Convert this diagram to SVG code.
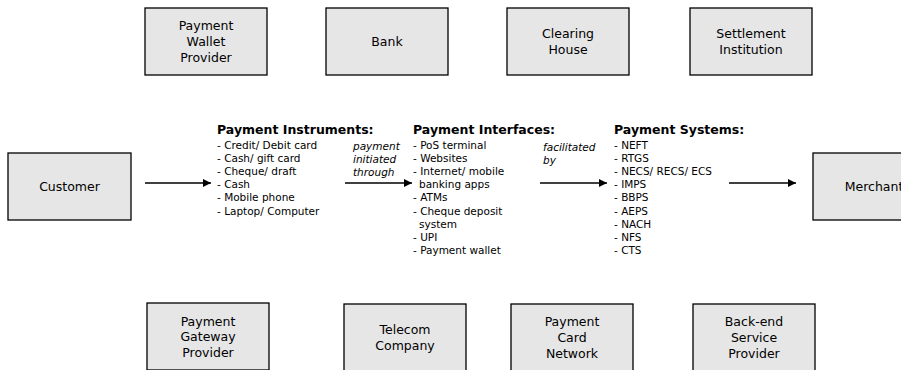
<svg xmlns="http://www.w3.org/2000/svg" width="901" height="370" viewBox="0 0 901 370">
<style>
  .box { fill: #e6e6e6; stroke: #000; stroke-width: 1.3; }
  .bl { font-family: "DejaVu Sans", sans-serif; font-size: 12.5px; text-anchor: middle; fill: #000; }
  .hd { font-family: "DejaVu Sans", sans-serif; font-size: 12.5px; font-weight: bold; fill: #000; }
  .it { font-family: "DejaVu Sans", sans-serif; font-size: 10.5px; fill: #000; }
  .lab { font-family: "DejaVu Sans", sans-serif; font-size: 10.5px; font-style: italic; fill: #000; }
  .conn { stroke: #000; stroke-width: 1.5; fill: none; marker-end: url(#ah); }
</style>
<defs>
  <marker id="ah" viewBox="0 0 10 10" refX="10" refY="5" markerWidth="10" markerHeight="8" markerUnits="userSpaceOnUse" orient="auto">
    <path d="M0,0 L10,5 L0,10 z" fill="#000"/>
  </marker>
</defs>
<rect width="901" height="370" fill="#fff"/>

<g id="payment-wallet-provider">
  <rect class="box" x="145" y="8" width="122" height="67"/>
  <text class="bl" x="206" y="30">Payment</text>
  <text class="bl" x="206" y="46">Wallet</text>
  <text class="bl" x="206" y="62">Provider</text>
</g>
<g id="bank">
  <rect class="box" x="326" y="8" width="122" height="67"/>
  <text class="bl" x="387" y="46">Bank</text>
</g>
<g id="clearing-house">
  <rect class="box" x="507" y="8" width="122" height="67"/>
  <text class="bl" x="568" y="38">Clearing</text>
  <text class="bl" x="568" y="54">House</text>
</g>
<g id="settlement-institution">
  <rect class="box" x="690" y="8" width="122" height="67"/>
  <text class="bl" x="751" y="38">Settlement</text>
  <text class="bl" x="751" y="54">Institution</text>
</g>

<g id="customer">
  <rect class="box" x="8" y="153" width="123" height="67"/>
  <text class="bl" x="69.5" y="191">Customer</text>
</g>
<g id="merchant">
  <rect class="box" x="813" y="153" width="122" height="67"/>
  <text class="bl" x="874" y="191">Merchant</text>
</g>

<g id="payment-instruments">
  <text class="hd" x="217" y="134">Payment Instruments:</text>
  <text class="it" x="217" y="148.5">- Credit/ Debit card</text>
  <text class="it" x="217" y="161.7">- Cash/ gift card</text>
  <text class="it" x="217" y="174.9">- Cheque/ draft</text>
  <text class="it" x="217" y="188.1">- Cash</text>
  <text class="it" x="217" y="201.3">- Mobile phone</text>
  <text class="it" x="217" y="214.5">- Laptop/ Computer</text>
</g>
<g id="payment-interfaces">
  <text class="hd" x="413" y="134">Payment Interfaces:</text>
  <text class="it" x="413" y="148.5">- PoS terminal</text>
  <text class="it" x="413" y="161.7">- Websites</text>
  <text class="it" x="413" y="174.9">- Internet/ mobile</text>
  <text class="it" x="419" y="188.1">banking apps</text>
  <text class="it" x="413" y="201.3">- ATMs</text>
  <text class="it" x="413" y="214.5">- Cheque deposit</text>
  <text class="it" x="419" y="227.7">system</text>
  <text class="it" x="413" y="240.9">- UPI</text>
  <text class="it" x="413" y="254.1">- Payment wallet</text>
</g>
<g id="payment-systems">
  <text class="hd" x="614" y="134">Payment Systems:</text>
  <text class="it" x="614" y="148.5">- NEFT</text>
  <text class="it" x="614" y="161.7">- RTGS</text>
  <text class="it" x="614" y="174.9">- NECS/ RECS/ ECS</text>
  <text class="it" x="614" y="188.1">- IMPS</text>
  <text class="it" x="614" y="201.3">- BBPS</text>
  <text class="it" x="614" y="214.5">- AEPS</text>
  <text class="it" x="614" y="227.7">- NACH</text>
  <text class="it" x="614" y="240.9">- NFS</text>
  <text class="it" x="614" y="254.1">- CTS</text>
</g>

<g id="payment-gateway-provider">
  <rect class="box" x="147" y="303" width="122" height="67"/>
  <text class="bl" x="208" y="325.5">Payment</text>
  <text class="bl" x="208" y="341">Gateway</text>
  <text class="bl" x="208" y="356.5">Provider</text>
</g>
<g id="telecom-company">
  <rect class="box" x="344" y="304" width="122" height="67"/>
  <text class="bl" x="405" y="333.5">Telecom</text>
  <text class="bl" x="405" y="349.5">Company</text>
</g>
<g id="payment-card-network">
  <rect class="box" x="511" y="304" width="122" height="67"/>
  <text class="bl" x="572" y="326">Payment</text>
  <text class="bl" x="572" y="342">Card</text>
  <text class="bl" x="572" y="357.5">Network</text>
</g>
<g id="back-end-service-provider">
  <rect class="box" x="693" y="304" width="122" height="67"/>
  <text class="bl" x="754" y="326">Back-end</text>
  <text class="bl" x="754" y="342">Service</text>
  <text class="bl" x="754" y="357.5">Provider</text>
</g>

<g id="connectors">
  <line class="conn" x1="145" y1="183" x2="211" y2="183"/>
  <line class="conn" x1="345" y1="183" x2="412" y2="183"/>
  <line class="conn" x1="540" y1="183" x2="607" y2="183"/>
  <line class="conn" x1="729" y1="183" x2="796" y2="183"/>
  <text class="lab" x="353" y="150">payment</text>
  <text class="lab" x="353" y="163">initiated</text>
  <text class="lab" x="353" y="176">through</text>
  <text class="lab" x="543" y="151">facilitated</text>
  <text class="lab" x="543" y="164">by</text>
</g>
</svg>
